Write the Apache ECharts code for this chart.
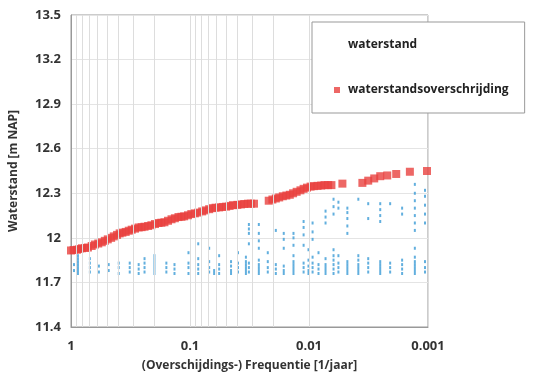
<!DOCTYPE html>
<html>
<head>
<meta charset="utf-8">
<script src="https://cdn.jsdelivr.net/npm/echarts@6/dist/echarts.min.js"></script>
<style>
  html, body { margin: 0; padding: 0; background: #fff; }
  #chart { width: 539px; height: 377px; }
</style>
</head>
<body>
<div id="chart"></div>
<script>
// exceedance curve (red squares)
const overschrijdingFreq = [1, 0.95, 0.891, 0.85, 0.809, 0.76, 0.721, 0.67, 0.63, 0.59, 0.551, 0.52, 0.491, 0.46, 0.437, 0.41, 0.39, 0.37, 0.347, 0.327,
  0.309, 0.29, 0.27, 0.255, 0.241, 0.225, 0.211, 0.197, 0.184, 0.174, 0.164, 0.153, 0.143, 0.134, 0.125, 0.118, 0.112, 0.104, 0.0975, 0.091,
  0.0853, 0.079, 0.0745, 0.069, 0.0651, 0.061, 0.0569, 0.053, 0.0497, 0.0465, 0.0435, 0.040, 0.0373, 0.035, 0.0326, 0.0308, 0.029,
  0.0218, 0.0203, 0.019, 0.0178, 0.0166, 0.0155, 0.0145, 0.0136, 0.0127, 0.0118, 0.0111, 0.0104, 0.0097, 0.0091, 0.00848, 0.0079, 0.00741, 0.0069, 0.00648,
  0.00524, 0.00356, 0.00318, 0.00283, 0.00252, 0.0022, 0.00185, 0.00142, 0.00102];
const overschrijdingLevel = [11.915, 11.918, 11.92, 11.925, 11.93, 11.932, 11.935, 11.945, 11.955, 11.962, 11.97, 11.98, 11.99, 12.0, 12.01, 12.02, 12.03, 12.035, 12.04, 12.048,
  12.055, 12.062, 12.07, 12.072, 12.075, 12.08, 12.085, 12.093, 12.1, 12.102, 12.105, 12.115, 12.125, 12.132, 12.14, 12.142, 12.145, 12.152, 12.16, 12.165,
  12.17, 12.178, 12.185, 12.193, 12.2, 12.203, 12.205, 12.208, 12.21, 12.215, 12.22, 12.222, 12.225, 12.228, 12.23, 12.23, 12.23,
  12.25, 12.258, 12.265, 12.272, 12.28, 12.285, 12.29, 12.3, 12.31, 12.32, 12.33, 12.338, 12.345, 12.348, 12.35, 12.352, 12.355, 12.355, 12.355,
  12.365, 12.37, 12.385, 12.40, 12.415, 12.42, 12.43, 12.445, 12.45];

// water levels (blue dots), one column per frequency
const waterstandFreq = [0.944, 0.874, 0.694, 0.583, 0.482, 0.397, 0.321, 0.27, 0.241, 0.199, 0.158, 0.135, 0.103, 0.0853, 0.069, 0.0627,
  0.0569, 0.0452, 0.0395, 0.0339, 0.032, 0.0264, 0.0222, 0.019, 0.0163, 0.0135, 0.0111, 0.0101, 0.00933, 0.00832, 0.00726, 0.00622,
  0.00566, 0.00476, 0.00385, 0.00318, 0.00252, 0.00208, 0.00165, 0.00129, 0.00106];
const waterstandLevels = [
  [11.78, 11.82],
  [11.76, 11.78, 11.8, 11.82, 11.84, 11.86, 11.88],
  [11.77, 11.8, 11.83, 11.86],
  [11.77, 11.81],
  [11.78, 11.82],
  [11.76, 11.8, 11.83],
  [11.77, 11.8, 11.83],
  [11.76, 11.79, 11.82],
  [11.77, 11.8, 11.83, 11.86],
  [11.76, 11.78, 11.8, 11.82, 11.84, 11.86, 11.88],
  [11.77, 11.8, 11.83],
  [11.76, 11.79, 11.82],
  [11.76, 11.8, 11.83, 11.9],
  [11.76, 11.79, 11.82, 11.86, 11.96],
  [11.77, 11.8, 11.84, 11.93],
  [11.76, 11.78],
  [11.76, 11.79, 11.82, 11.88],
  [11.76, 11.78, 11.81, 11.84],
  [11.77, 11.8, 11.83, 11.9],
  [11.76, 11.78, 11.8, 11.82, 11.84, 11.87],
  [11.77, 11.8, 11.83, 11.96, 12.03, 12.06, 12.09],
  [11.76, 11.78, 11.8, 11.82, 11.85, 11.93, 11.98, 12.03, 12.09],
  [11.77, 11.8, 11.84, 11.9],
  [11.76, 11.79, 11.82, 12.05],
  [11.76, 11.78, 11.81, 11.93, 11.99, 12.03],
  [11.76, 11.78, 11.8, 11.82, 11.84, 11.88, 11.95, 12.0, 12.03],
  [11.77, 11.8, 11.83, 11.95, 12.02, 12.07, 12.11],
  [11.76, 11.78, 11.81, 11.85, 11.92],
  [11.77, 11.8, 11.83, 11.87, 11.99, 12.04, 12.1],
  [11.76, 11.79, 11.82, 11.9],
  [11.76, 11.78, 11.8, 11.82, 11.86, 12.1, 12.14, 12.18],
  [11.76, 11.79, 11.82, 11.85, 11.88, 11.92, 12.16, 12.21, 12.26],
  [11.77, 11.8, 11.83, 11.88, 12.2, 12.24],
  [11.76, 11.78, 11.8, 11.82, 11.84, 12.03, 12.08, 12.13, 12.17, 12.2],
  [11.76, 11.78, 11.8, 11.82, 11.85, 11.88, 12.26],
  [11.77, 11.8, 11.83, 11.86, 12.13, 12.23],
  [11.76, 11.78, 11.8, 11.82, 11.84, 12.11, 12.15, 12.19, 12.23],
  [11.77, 11.8, 11.83, 12.23],
  [11.76, 11.79, 11.82, 11.85, 12.16, 12.2],
  [11.76, 11.78, 11.8, 11.82, 11.84, 11.87, 11.93, 12.05, 12.1, 12.15, 12.2, 12.25, 12.3, 12.36],
  [11.77, 11.8, 11.84, 12.1, 12.16, 12.22, 12.28, 12.32]
];

// y ticks and log gridlines
const yMin = 11.4, yMax = 13.5, yStep = 0.3;
const logGridFreq = [0.9, 0.8, 0.7, 0.6, 0.5, 0.4, 0.3, 0.2,
  0.09, 0.08, 0.07, 0.06, 0.05, 0.04, 0.03, 0.02,
  0.009, 0.008, 0.007, 0.006, 0.005, 0.004, 0.003, 0.002];

const chart = echarts.init(document.getElementById('chart'));

const redData = overschrijdingFreq.map((f, i) => [f, overschrijdingLevel[i]]);
const blueData = [];
waterstandFreq.forEach((f, i) => {
  waterstandLevels[i].forEach(v => blueData.push([f, v]));
});

const font = '"Open Sans", sans-serif';

const option = {
  backgroundColor: '#fff',
  animation: false,
  grid: { left: 69, right: 111, top: 15, bottom: 44, show: true, borderColor: '#999', borderWidth: 1 },
  legend: {
    orient: 'vertical',
    left: 312,
    top: 22,
    padding: [17, 16, 17, 22],
    itemGap: 33,
    itemWidth: 6,
    itemHeight: 6,
    backgroundColor: '#fff',
    borderColor: '#999',
    borderWidth: 1,
    textStyle: { fontFamily: font, fontWeight: 'bold', fontSize: 12, color: '#222', padding: [0, 0, 0, 3] },
    data: [
      { name: 'waterstand', icon: 'rect', itemStyle: { opacity: 0 } },
      { name: 'waterstandsoverschrijding', icon: 'rect' }
    ]
  },
  xAxis: {
    type: 'log',
    logBase: 10,
    min: 0.001,
    max: 1,
    inverse: true,
    name: '(Overschijdings-) Frequentie [1/jaar]',
    nameLocation: 'middle',
    nameGap: 33,
    nameTextStyle: { fontFamily: font, fontWeight: 'bold', fontSize: 12, color: '#333' },
    axisLine: { show: true, lineStyle: { color: '#999' } },
    axisTick: { show: false },
    axisLabel: {
      margin: 13,
      fontFamily: font, fontWeight: 'bold', fontSize: 13, color: '#333',
      formatter: v => String(+Number(v).toPrecision(1))
    },
    splitLine: { show: true, lineStyle: { color: '#ddd' } }
  },
  yAxis: {
    type: 'value',
    min: yMin,
    max: yMax,
    interval: yStep,
    name: 'Waterstand [m NAP]',
    nameLocation: 'middle',
    nameGap: 51,
    nameTextStyle: { fontFamily: font, fontWeight: 'bold', fontSize: 12, color: '#333' },
    axisLine: { show: true, lineStyle: { color: '#999' } },
    axisTick: { show: false },
    axisLabel: {
      margin: 10,
      fontFamily: font, fontWeight: 'bold', fontSize: 13, color: '#333',
      formatter: v => String(+Number(v).toFixed(1))
    },
    splitLine: { show: true, lineStyle: { color: '#e4e4e4' } }
  },
  series: [
    {
      name: 'waterstand',
      type: 'scatter',
      symbol: 'rect',
      symbolSize: [2, 3],
      itemStyle: { color: '#3b9bd6' },
      data: blueData,
      markLine: {
        silent: true,
        symbol: 'none',
        label: { show: false },
        lineStyle: { color: '#ddd', type: 'solid', width: 1 },
        data: logGridFreq.map(f => ({ xAxis: f }))
      },
      z: 2
    },
    {
      name: 'waterstandsoverschrijding',
      type: 'scatter',
      symbol: 'rect',
      symbolSize: 8,
      itemStyle: { color: '#e8413f' },
      data: redData,
      z: 3
    }
  ]
};

chart.setOption(option);
</script>
</body>
</html>
